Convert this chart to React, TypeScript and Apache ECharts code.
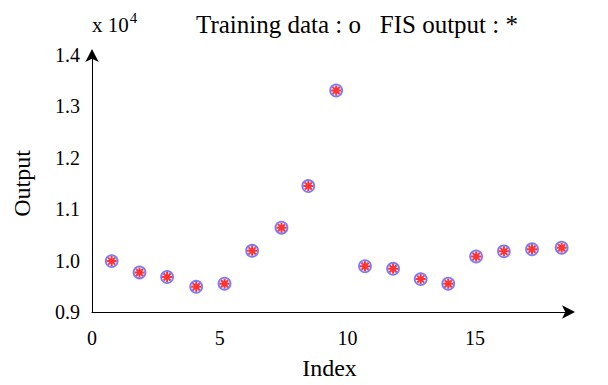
import React, { useEffect, useRef } from "react";
import * as echarts from "echarts";

// Index positions as drawn (axis units)
const xIndex = [0.77, 1.86, 2.94, 4.08, 5.19, 6.27, 7.42, 8.47, 9.56, 10.69, 11.79, 12.87, 13.95, 15.04, 16.13, 17.23, 18.39];
// Output values (x 10^4)
const trainingData = [0.999, 0.977, 0.968, 0.949, 0.955, 1.019, 1.064, 1.145, 1.331, 0.989, 0.984, 0.964, 0.955, 1.008, 1.018, 1.022, 1.025];
const fisOutput = [0.999, 0.977, 0.968, 0.949, 0.955, 1.019, 1.064, 1.145, 1.331, 0.989, 0.984, 0.964, 0.955, 1.008, 1.018, 1.022, 1.025];
const xTicks = [0, 5, 10, 15];
const yTicks = [0.9, 1.0, 1.1, 1.2, 1.3, 1.4];

const FONT = "'Liberation Serif', 'Times New Roman', serif";
const asterisk = "path://M0,-5L0,5M-5,0L5,0M-3.5,-3.5L3.5,3.5M-3.5,3.5L3.5,-3.5";

export default function App() {
  const ref = useRef<HTMLDivElement>(null);
  useEffect(() => {
    if (!ref.current) return;
    const chart = echarts.init(ref.current, null, { renderer: "svg" });
    chart.setOption({
      animation: false,
      backgroundColor: "#ffffff",
      textStyle: { fontFamily: FONT, color: "#000" },
      title: {
        text: "Training data : o   FIS output : *",
        left: 191,
        top: 7,
        textStyle: { fontFamily: FONT, fontSize: 25, fontWeight: "normal", color: "#000" },
      },
      graphic: [
        {
          type: "text",
          left: 92,
          top: 10,
          style: {
            text: "{a|x 10}{b|4}",
            rich: {
              a: { fontFamily: FONT, fontSize: 21, fill: "#000", verticalAlign: "bottom" },
              b: { fontFamily: FONT, fontSize: 15, fill: "#000", verticalAlign: "top", padding: [0, 0, 10, 1] },
            },
          },
        },
      ],
      grid: { left: 92, top: 55, width: 475, height: 260, containLabel: false },
      xAxis: {
        type: "value",
        min: 0,
        max: 18.6,
        interval: 5,
        name: "Index",
        nameLocation: "middle",
        nameGap: 44,
        nameTextStyle: { fontFamily: FONT, fontSize: 24, color: "#000" },
        axisLine: {
          show: true,
          symbol: ["none", "arrow"],
          symbolSize: [10, 13],
          symbolOffset: [0, 8],
          lineStyle: { color: "#000", width: 1 },
        },
        axisTick: { show: false },
        splitLine: { show: false },
        axisLabel: {
          fontFamily: FONT,
          fontSize: 20,
          color: "#000",
          margin: 16,
          showMaxLabel: false,
          formatter: (v: number) => (xTicks.includes(v) ? String(v) : ""),
        },
      },
      yAxis: {
        type: "value",
        min: 0.9,
        max: 1.4,
        interval: 0.1,
        name: "Output",
        nameLocation: "middle",
        nameGap: 58,
        nameRotate: 90,
        nameTextStyle: { fontFamily: FONT, fontSize: 24, color: "#000" },
        axisLine: {
          show: true,
          symbol: ["none", "arrow"],
          symbolSize: [10, 13],
          symbolOffset: [0, 6],
          lineStyle: { color: "#000", width: 1 },
        },
        axisTick: { show: false },
        splitLine: { show: false },
        axisLabel: {
          fontFamily: FONT,
          fontSize: 20,
          color: "#000",
          margin: 12,
          formatter: (v: number) => {
            const t = yTicks.find((y) => Math.abs(y - v) < 1e-6);
            return t !== undefined ? t.toFixed(1) : "";
          },
        },
      },
      series: [
        {
          type: "scatter",
          name: "Training data",
          data: xIndex.map((x, i) => [x, trainingData[i]]),
          symbol: "circle",
          symbolSize: 12,
          itemStyle: { color: "rgba(255,255,255,0)", borderColor: "#5a5aff", borderWidth: 1.8 },
          z: 2,
        },
        {
          type: "scatter",
          name: "FIS output",
          data: xIndex.map((x, i) => [x, fisOutput[i]]),
          symbol: asterisk,
          symbolSize: 10,
          itemStyle: { color: "#ff0000", borderColor: "#ff0000", borderWidth: 2 },
          z: 3,
        },
      ],
    });
    return () => chart.dispose();
  }, []);
  return <div ref={ref} style={{ position: "fixed", left: 0, top: 0, width: 608, height: 385 }} />;
}
